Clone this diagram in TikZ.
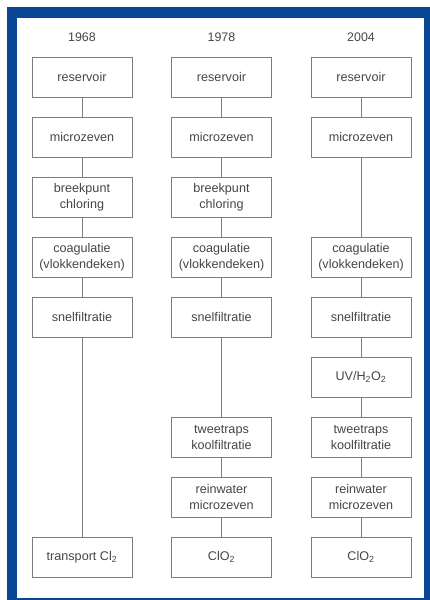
\documentclass[tikz,border=0pt]{standalone}
\usepackage{fontspec}
\setmainfont{Liberation Sans}
\definecolor{frameblue}{RGB}{10,72,150}
\definecolor{boxgrey}{RGB}{125,125,125}
\definecolor{txtgrey}{RGB}{70,70,70}
\begin{document}
\begin{tikzpicture}[x=1pt,y=-1pt,
  stepbox/.style={draw=boxgrey,line width=0.9pt,minimum width=100pt,minimum height=40pt,
    inner sep=0pt,align=center,text=txtgrey,font=\fontsize{12.6}{16}\selectfont},
  yearlbl/.style={text=txtgrey,font=\fontsize{12.4}{15}\selectfont,inner sep=0pt},
  link/.style={draw=boxgrey,line width=0.9pt}]
\useasboundingbox (0,0) rectangle (430,600);
\fill[frameblue] (7,7) rectangle (432,602);
\fill[white] (17,18) rectangle (424,598);
% years
\node[yearlbl] (y1) at (82,37) {1968};
\node[yearlbl] (y2) at (221.5,37) {1978};
\node[yearlbl] (y3) at (361,37) {2004};
% column 1968
\node[stepbox] (a1) at (82,77) {reservoir};
\node[stepbox] (a2) at (82,137) {microzeven};
\node[stepbox] (a3) at (82,197) {breekpunt\\chloring};
\node[stepbox] (a4) at (82,257) {coagulatie\\(vlokkendeken)};
\node[stepbox] (a5) at (82,317) {snelfiltratie};
\node[stepbox] (a9) at (82,557) {transport Cl\textsubscript{2}};
% column 1978
\node[stepbox] (b1) at (221.5,77) {reservoir};
\node[stepbox] (b2) at (221.5,137) {microzeven};
\node[stepbox] (b3) at (221.5,197) {breekpunt\\chloring};
\node[stepbox] (b4) at (221.5,257) {coagulatie\\(vlokkendeken)};
\node[stepbox] (b5) at (221.5,317) {snelfiltratie};
\node[stepbox] (b7) at (221.5,437) {tweetraps\\koolfiltratie};
\node[stepbox] (b8) at (221.5,497) {reinwater\\microzeven};
\node[stepbox] (b9) at (221.5,557) {ClO\textsubscript{2}};
% column 2004
\node[stepbox] (c1) at (361,77) {reservoir};
\node[stepbox] (c2) at (361,137) {microzeven};
\node[stepbox] (c4) at (361,257) {coagulatie\\(vlokkendeken)};
\node[stepbox] (c5) at (361,317) {snelfiltratie};
\node[stepbox] (c6) at (361,377) {UV/H\textsubscript{2}O\textsubscript{2}};
\node[stepbox] (c7) at (361,437) {tweetraps\\koolfiltratie};
\node[stepbox] (c8) at (361,497) {reinwater\\microzeven};
\node[stepbox] (c9) at (361,557) {ClO\textsubscript{2}};
% connectors
\draw[link] (a1) -- (a2);
\draw[link] (a2) -- (a3);
\draw[link] (a3) -- (a4);
\draw[link] (a4) -- (a5);
\draw[link] (a5) -- (a9);
\draw[link] (b1) -- (b2);
\draw[link] (b2) -- (b3);
\draw[link] (b3) -- (b4);
\draw[link] (b4) -- (b5);
\draw[link] (b5) -- (b7);
\draw[link] (b7) -- (b8);
\draw[link] (b8) -- (b9);
\draw[link] (c1) -- (c2);
\draw[link] (c2) -- (c4);
\draw[link] (c4) -- (c5);
\draw[link] (c5) -- (c6);
\draw[link] (c6) -- (c7);
\draw[link] (c7) -- (c8);
\draw[link] (c8) -- (c9);
\end{tikzpicture}
\end{document}
